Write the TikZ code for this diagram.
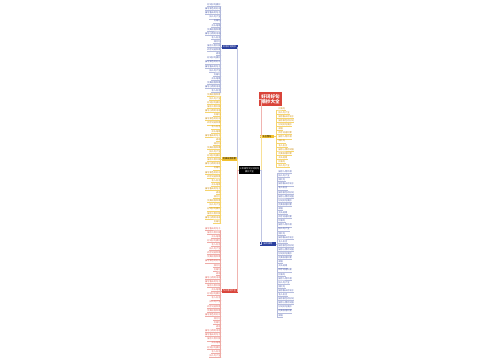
\documentclass[tikz,border=0pt]{standalone}
\usepackage{fontspec}
\newfontfamily\cjk{Noto Sans CJK SC}
\definecolor{myblue}{HTML}{2B3F9E}
\definecolor{myyellow}{HTML}{F2C12E}
\definecolor{myorange}{HTML}{C98A0B}
\definecolor{myred}{HTML}{D9443A}

\newcommand\leaftext[1]{\ifcase#1 好词好句摘抄\or 描写春天的句子\or 比喻句\or 优美段落积累\or 名人名言\or 描写人物外貌\or 成语\or 描写景色的好词\or 拟人句大全\or 开头结尾\or 描写心情的词语\or 排比句\or 四字词语积累\fi}

\begin{document}
\begin{tikzpicture}[
    x=1pt, y=-1pt,
    every node/.style={font=\cjk\fontsize{2.2}{2.6}\selectfont, inner sep=0.3pt},
    root/.style={fill=black, text=white, minimum width=21pt, minimum height=8pt, align=center},
    branch/.style={minimum width=16pt, minimum height=3.4pt, inner xsep=0.8pt},
    leaf/.style={minimum height=3pt},
    link/.style={line width=0.35pt}
]
\useasboundingbox (0,0) rectangle (500,360);

\node [root] (c) at (249.5,170) {三年级作文好词好句\\摘抄大全};

\node [branch, fill=myblue, text=white] (lb) at (229.5,47) {好词好句摘抄};
\node [branch, fill=myyellow, text=black] (ly) at (229.5,159) {优美段落积累};
\node [branch, fill=myred, text=white] (lr) at (229.5,291) {作文素材大全};

\node [fill=myred, text=white, minimum width=23pt, minimum height=14pt, align=center,
       font=\cjk\fontsize{4.6}{5.2}\selectfont\bfseries] (img) at (270.5,99) {好词好句\\摘抄大全};
\node [branch, fill=myyellow, text=black, minimum width=14pt] (ry) at (267,136.5) {名言警句};
\node [branch, fill=myblue, text=white] (rb) at (268,244) {描写景物};

% trunks
\draw [link, draw=myblue!30] (c.west) -- ++(-1.5,0) |- (lb.east);
\draw [link, draw=myyellow!50] (c.west) -- ++(-1.5,0) |- (ly.east);
\draw [link, draw=myred!40] (c.west) -- ++(-1.5,0) |- (lr.east);
\draw [link, draw=myred!40] (c.east) -- ++(1,0) |- (img.west);
\draw [link, draw=myyellow!50] (c.east) -- ++(1,0) |- (ry.west);
\draw [link, draw=myblue!30] (c.east) -- ++(1,0) |- (rb.west);

% left leaves
\foreach \i in {0,...,21} {
  \pgfmathtruncatemacro\k{mod(\i*7,13)}
  \node [leaf, text=myblue!85, anchor=east] (lb\i) at (221,4.7+4.1*\i) {\leaftext{\k}};
  \draw [link, draw=myblue!35] (lb.west) -- ++(-0.8,0) |- (lb\i.south east) -- (lb\i.south west);
}
\foreach \i in {0,...,31} {
  \pgfmathtruncatemacro\k{mod(\i*5+3,13)}
  \node [leaf, text=myorange, anchor=east] (ly\i) at (221,94.3+4.1*\i) {\leaftext{\k}};
  \draw [link, draw=myyellow!70] (ly.west) -- ++(-0.8,0) |- (ly\i.south east) -- (ly\i.south west);
}
\foreach \i in {0,...,31} {
  \pgfmathtruncatemacro\k{mod(\i*4+1,13)}
  \node [leaf, text=myred!85, anchor=east] (lr\i) at (221,228.3+4.1*\i) {\leaftext{\k}};
  \draw [link, draw=myred!45] (lr.west) -- ++(-0.8,0) |- (lr\i.south east) -- (lr\i.south west);
}

% right leaves
\foreach \i in {0,...,14} {
  \pgfmathtruncatemacro\k{mod(\i*6+2,13)}
  \node [leaf, text=myorange, anchor=west] (ry\i) at (278,108.3+4.1*\i) {\leaftext{\k}};
  \draw [link, draw=myyellow!70] (ry.east) -- ++(1.5,0) |- (ry\i.south west) -- (ry\i.south east);
}
\foreach \i in {0,...,35} {
  \pgfmathtruncatemacro\k{mod(\i*3+5,13)}
  \node [leaf, text=myblue!85, anchor=west] (rb\i) at (278,171.7+4.1*\i) {\leaftext{\k}};
  \draw [link, draw=myblue!35] (rb.east) -- ++(1,0) |- (rb\i.south west) -- (rb\i.south east);
}

\end{tikzpicture}
\end{document}
